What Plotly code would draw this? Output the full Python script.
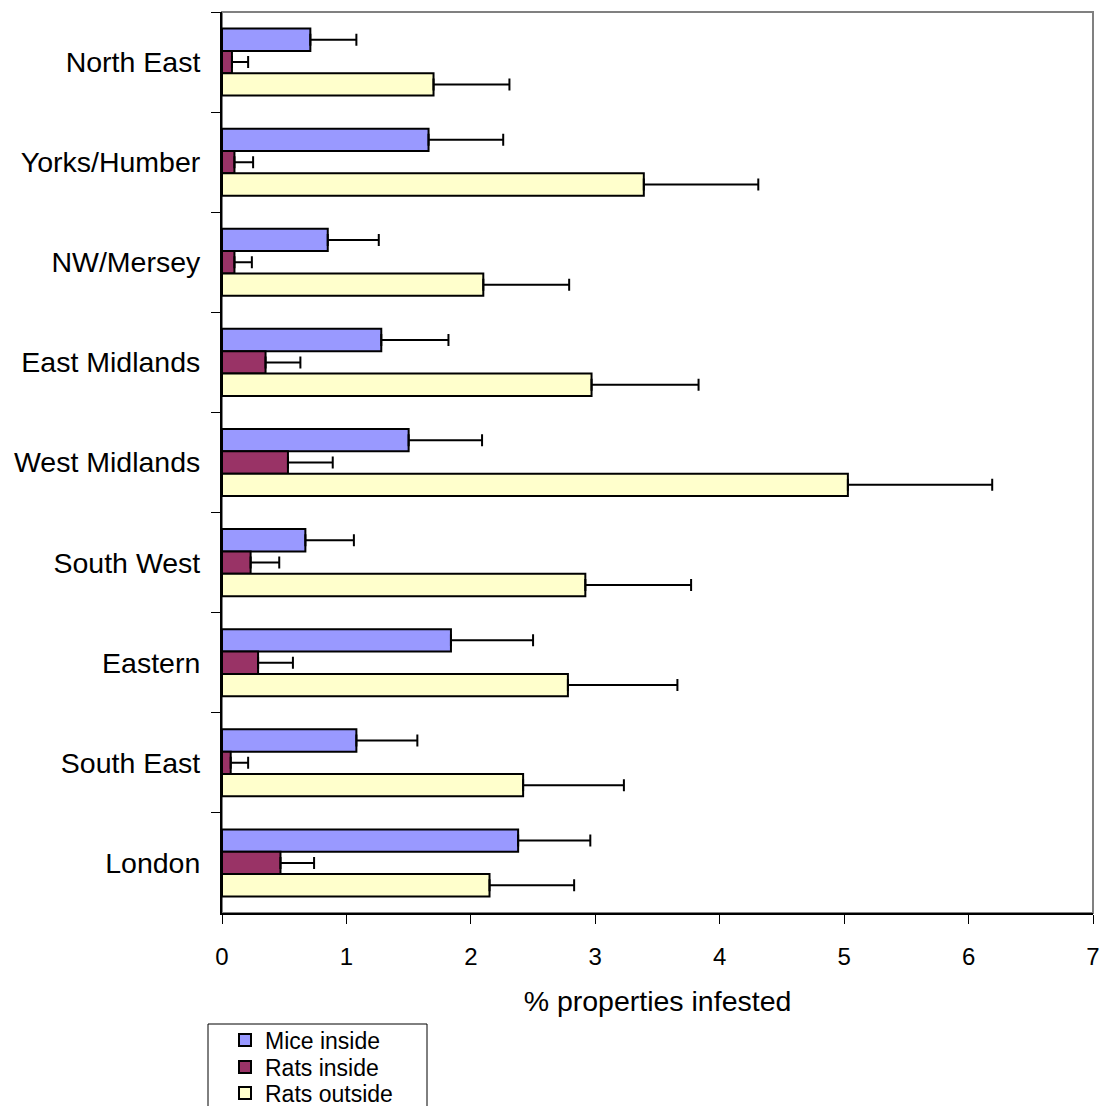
import plotly.graph_objects as go

regions = ["North East", "Yorks/Humber", "NW/Mersey", "East Midlands", "West Midlands",
           "South West", "Eastern", "South East", "London"]
mice_inside = [0.71, 1.66, 0.85, 1.28, 1.50, 0.67, 1.84, 1.08, 2.38]
mice_inside_err = [0.37, 0.60, 0.41, 0.54, 0.59, 0.39, 0.66, 0.49, 0.58]
rats_inside = [0.08, 0.10, 0.10, 0.35, 0.53, 0.23, 0.29, 0.07, 0.47]
rats_inside_err = [0.13, 0.15, 0.14, 0.28, 0.36, 0.23, 0.28, 0.14, 0.27]
rats_outside = [1.70, 3.39, 2.10, 2.97, 5.03, 2.92, 2.78, 2.42, 2.15]
rats_outside_err = [0.61, 0.92, 0.69, 0.86, 1.16, 0.85, 0.88, 0.81, 0.68]
x_ticks = [0, 1, 2, 3, 4, 5, 6, 7]

FONT = "Liberation Sans, Arial, sans-serif"
W, H = 1104, 1106
ML, MR, MT, MB = 222, 11, 12, 193
PH = H - MT - MB
PW = W - ML - MR


def py(p):  # pixel -> paper y
    return (H - MB - p) / PH


def px(p):  # pixel -> paper x
    return (p - ML) / PW


def cy(p):  # pixel -> container y
    return 1 - p / H


def cx(p):  # pixel -> container x
    return p / W


series = [
    ("Mice inside", mice_inside, mice_inside_err, "#9999FF", "legend"),
    ("Rats inside", rats_inside, rats_inside_err, "#993366", "legend2"),
    ("Rats outside", rats_outside, rats_outside_err, "#FFFFCC", "legend3"),
]

fig = go.Figure()
for name, vals, errs, color, lg in series:
    fig.add_trace(go.Bar(
        name=name, y=regions, x=vals, orientation="h",
        marker=dict(color=color, line=dict(color="black", width=2)),
        error_x=dict(type="data", array=errs, arrayminus=[0] * len(errs), symmetric=False,
                     color="black", thickness=2, width=6),
        legend=lg, showlegend=True,
    ))

leg_common = dict(font=dict(family=FONT, size=23, color="black"), bgcolor="rgba(0,0,0,0)",
                  borderwidth=0, xanchor="left", yanchor="middle", xref="container",
                  yref="container", x=cx(225), itemclick=False, itemdoubleclick=False)

fig.update_layout(
    width=W, height=H,
    margin=dict(l=ML, r=MR, t=MT, b=MB, pad=0, autoexpand=False),
    paper_bgcolor="white", plot_bgcolor="white",
    barmode="group", bargap=0.33, bargroupgap=0,
    font=dict(family=FONT, color="black"),
    showlegend=True,
    legend=dict(**leg_common, y=cy(1040)),
    legend2=dict(**leg_common, y=cy(1067)),
    legend3=dict(**leg_common, y=cy(1093)),
    xaxis=dict(range=[0, 7], tickvals=x_ticks, ticks="outside", ticklen=9, tickwidth=1,
               tickcolor="black", showline=True, linecolor="black", linewidth=2,
               showgrid=False, zeroline=False, ticklabelstandoff=12,
               ticklabeloverflow="allow",
               tickfont=dict(family=FONT, size=24, color="black"),
               title=dict(text="% properties infested", font=dict(family=FONT, size=28.5, color="black"),
                          standoff=22)),
    yaxis=dict(autorange=False, range=[8.5, -0.5], categoryorder="array", categoryarray=regions,
               ticks="outside", ticklen=9, tickwidth=1, tickcolor="black", tickson="boundaries",
               showline=True, linecolor="black", linewidth=2, showgrid=False,
               ticklabelstandoff=14,
               tickfont=dict(family=FONT, size=28.5, color="black")),
    shapes=[
        dict(type="rect", xref="paper", yref="paper", x0=0, x1=1, y0=0, y1=1,
             line=dict(color="#808080", width=2), layer="below"),
        dict(type="rect", xref="paper", yref="paper", x0=px(208), x1=px(427),
             y0=py(1112), y1=py(1024), line=dict(color="black", width=1)),
    ],
)

fig.write_html(
    "out.html",
    config={"displayModeBar": False},
    post_script="document.body.style.margin='0';document.body.style.overflow='hidden';",
)
